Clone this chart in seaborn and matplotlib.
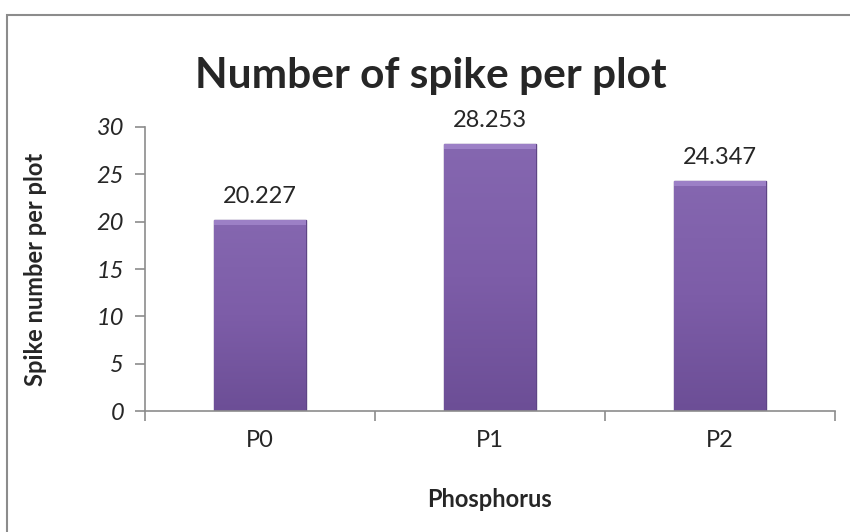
import matplotlib
matplotlib.use("Agg")
import matplotlib.pyplot as plt
import seaborn as sns
import pandas as pd
import numpy as np
from matplotlib.patches import Rectangle

# data
categories = ["P0", "P1", "P2"]
spike_values = [20.227, 28.253, 24.347]
value_labels = ["20.227", "28.253", "24.347"]
y_ticks = [0, 5, 10, 15, 20, 25, 30]

df = pd.DataFrame({"Phosphorus": categories, "Spikes": spike_values})

sns.set_theme(style="white")
plt.rcParams['font.family'] = ['Lato', 'DejaVu Sans']

fig = plt.figure(figsize=(8.5, 5.32), dpi=100)
ax = fig.add_axes([0.1706, 0.2274, 0.8112, 0.5339])

sns.barplot(data=df, x="Phosphorus", y="Spikes", color="#7B5BA6",
            width=0.4, edgecolor="#5E4585", linewidth=1.0, saturation=1, ax=ax)

# soft vertical gradient inside each bar
grad = np.linspace(0, 1, 256).reshape(-1, 1)
cmap = matplotlib.colors.LinearSegmentedColormap.from_list(
    "purp", ["#6C4E96", "#7D5DA8", "#8567B0"])
for bar in ax.patches:
    x0, y0 = bar.get_x(), bar.get_y()
    w, h = bar.get_width(), bar.get_height()
    im = ax.imshow(grad, extent=[x0, x0 + w, y0, y0 + h], origin="lower",
                   cmap=cmap, aspect="auto", zorder=bar.get_zorder())
    im.set_clip_path(bar)
    # lighter bevel strip on top
    ax.add_patch(Rectangle((x0, y0 + h - 0.6), w, 0.6, facecolor="#9C80C6",
                           edgecolor="none", zorder=bar.get_zorder() + 0.1))

# data labels
for i, (v, lab) in enumerate(zip(spike_values, value_labels)):
    ax.text(i, v + 1.3, lab, ha="center", va="bottom", fontsize=17)

ax.set_ylim(0, 30)
ax.set_xlim(-0.5, 2.5)
ax.set_yticks(y_ticks)
ax.set_yticklabels([str(t) for t in y_ticks], fontsize=17, style="italic")
ax.set_xticks([0, 1, 2])
ax.set_xticklabels(categories, fontsize=17)
# ticks at category boundaries
ax.set_xticks([-0.5, 0.5, 1.5, 2.5], minor=True)
ax.tick_params(axis="x", which="major", length=0, pad=14)
ax.tick_params(axis="x", which="minor", length=7, width=1.2, color="#8C8C8C", bottom=True, direction="out")
ax.tick_params(axis="y", length=7, width=1.2, color="#8C8C8C", left=True, direction="out", pad=8)

for s in ["top", "right"]:
    ax.spines[s].set_visible(False)
for s in ["left", "bottom"]:
    ax.spines[s].set_color("#8C8C8C")
    ax.spines[s].set_linewidth(1.2)

ax.set_xlabel("Phosphorus", fontsize=17, fontweight="bold", labelpad=26)
ax.set_ylabel("Spike number per plot", fontsize=17, fontweight="bold", labelpad=36)

fig.text(0.507, 0.858, "Number of spike per plot", ha="center", va="center",
         fontsize=30.5, fontweight="bold")

# chart frame
fig.patches.append(Rectangle((7 / 850, -0.05), 1.0, 1 - 15 / 532 + 0.05,
                             transform=fig.transFigure, fill=False,
                             edgecolor="#8C8C8C", linewidth=1.5))

fig.savefig("out.png", dpi=100)
